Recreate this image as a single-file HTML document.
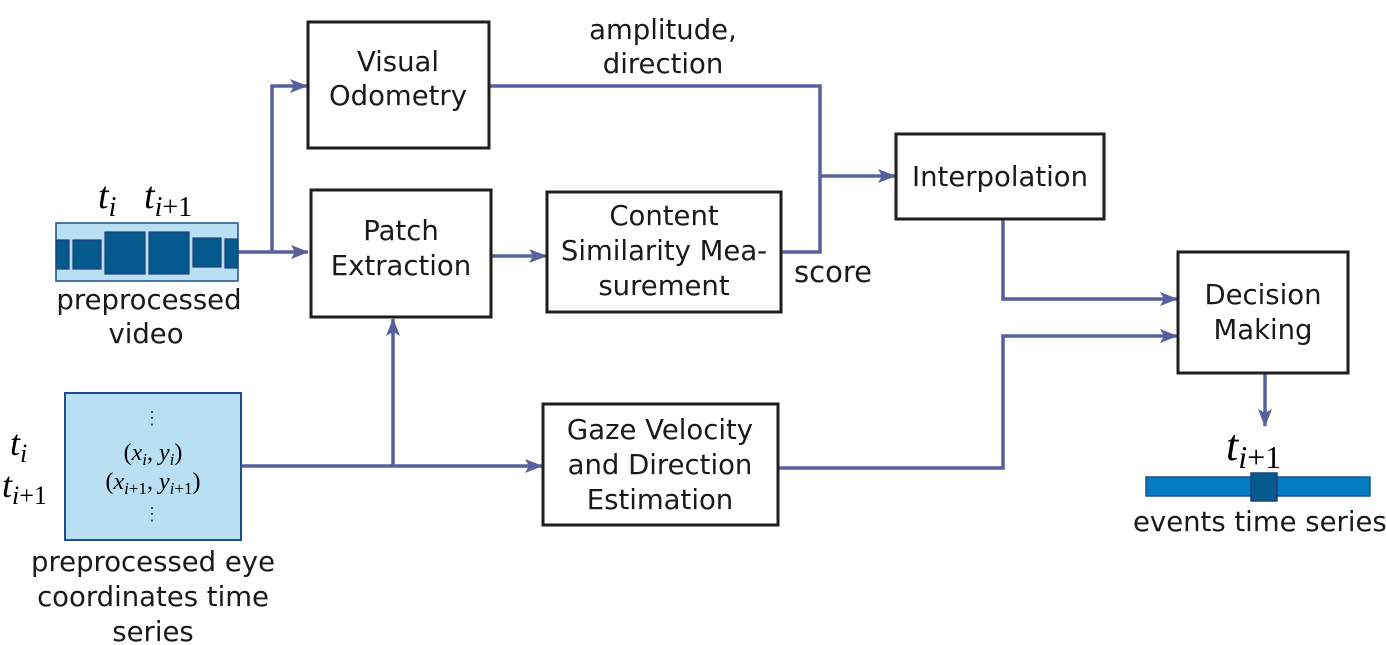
<!DOCTYPE html>
<html><head><meta charset="utf-8"><style>
html,body{margin:0;padding:0;background:#fff;overflow:hidden;}
svg{display:block;}
.t{font-family:"DejaVu Sans","Liberation Sans",sans-serif;font-size:27.5px;fill:#1a1a1a;text-anchor:middle;}
.m{font-family:"Liberation Serif",serif;font-style:italic;fill:#000;}
.b{fill:#fff;stroke:#1e1e1e;stroke-width:3;}
.l{fill:none;stroke:#56609a;stroke-width:3.5;}
</style></head><body>
<svg width="1386" height="645" viewBox="0 0 1386 645" xmlns="http://www.w3.org/2000/svg">
<defs><marker id="a" markerWidth="18" markerHeight="14" refX="17" refY="7" orient="auto" markerUnits="userSpaceOnUse"><path d="M0,0 L18,7 L0,14 L4,7 Z" fill="#56609a"/></marker></defs>
<path class="l" d="M238,252 H308" marker-end="url(#a)"/>
<path class="l" d="M272,252 V86 H307" marker-end="url(#a)"/>
<path class="l" d="M489,86 H820 V252 H781"/>
<path class="l" d="M820,176 H895" marker-end="url(#a)"/>
<path class="l" d="M491,256 H546" marker-end="url(#a)"/>
<path class="l" d="M241,466 H542" marker-end="url(#a)"/>
<path class="l" d="M393,466 V319" marker-end="url(#a)"/>
<path class="l" d="M778,468 H1003 V336 H1177" marker-end="url(#a)"/>
<path class="l" d="M1003,219 V299 H1177" marker-end="url(#a)"/>
<path class="l" d="M1265,373 V426" marker-end="url(#a)"/>
<rect class="b" x="308" y="22" width="181" height="126"/>
<text class="t" x="398" y="71">Visual</text><text class="t" x="398" y="105">Odometry</text>
<rect class="b" x="311" y="190" width="180" height="127"/>
<text class="t" x="401" y="240">Patch</text><text class="t" x="401" y="275">Extraction</text>
<rect class="b" x="547" y="192" width="234" height="120"/>
<text class="t" x="664" y="225">Content</text><text class="t" x="664" y="260">Similarity Mea-</text><text class="t" x="664" y="295">surement</text>
<rect class="b" x="896" y="134" width="208" height="85"/>
<text class="t" x="1000" y="186">Interpolation</text>
<rect class="b" x="1178" y="252" width="170" height="121"/>
<text class="t" x="1263" y="304">Decision</text><text class="t" x="1263" y="339">Making</text>
<rect class="b" x="543" y="404" width="235" height="121"/>
<text class="t" x="660" y="439">Gaze Velocity</text><text class="t" x="660" y="474">and Direction</text><text class="t" x="660" y="509">Estimation</text>
<text class="t" x="663" y="39">amplitude,</text><text class="t" x="663" y="73">direction</text>
<text class="t" x="833" y="282" style="font-size:29px">score</text>
<rect x="56" y="223" width="182" height="58" fill="#b8dff2" stroke="#1f4e8c" stroke-width="1.5"/>
<g fill="#045a8d" stroke="#1f3e7c" stroke-width="1.2">
<rect x="56" y="240" width="13" height="29"/><rect x="73" y="240" width="28" height="29"/>
<rect x="105" y="232" width="40" height="42"/><rect x="149" y="232" width="40" height="42"/>
<rect x="193" y="238" width="28" height="29"/><rect x="225" y="239" width="13" height="29"/>
</g>
<text class="m" x="98" y="208" font-size="38">t<tspan font-size="28" dy="8">i</tspan></text>
<text class="m" x="144" y="208" font-size="38">t<tspan font-size="28" dy="8">i</tspan><tspan font-style="normal" font-size="28">+1</tspan></text>
<text class="t" x="149" y="309">preprocessed</text><text class="t" x="146" y="343">video</text>
<rect x="65" y="393" width="176" height="147" fill="#b8dff2" stroke="#1f4e8c" stroke-width="2"/>
<text x="152" y="424" text-anchor="middle" font-size="18" fill="#1f3e7c" font-family="Liberation Serif,serif">⋮</text>
<text x="153" y="460" text-anchor="middle" font-size="24" font-family="Liberation Serif,serif">(<tspan font-style="italic">x</tspan><tspan font-size="17" dy="5" font-style="italic">i</tspan><tspan dy="-5">, </tspan><tspan font-style="italic">y</tspan><tspan font-size="17" dy="5" font-style="italic">i</tspan><tspan dy="-5">)</tspan></text>
<text x="153" y="489" text-anchor="middle" font-size="24" font-family="Liberation Serif,serif">(<tspan font-style="italic">x</tspan><tspan font-size="17" dy="5"><tspan font-style="italic">i</tspan>+1</tspan><tspan dy="-5">, </tspan><tspan font-style="italic">y</tspan><tspan font-size="17" dy="5"><tspan font-style="italic">i</tspan>+1</tspan><tspan dy="-5">)</tspan></text>
<text x="152" y="520" text-anchor="middle" font-size="18" fill="#1f3e7c" font-family="Liberation Serif,serif">⋮</text>
<text class="m" x="10" y="455" font-size="36">t<tspan font-size="26" dy="7">i</tspan></text>
<text class="m" x="2" y="497" font-size="36">t<tspan font-size="26" dy="7">i</tspan><tspan font-style="normal" font-size="26">+1</tspan></text>
<text class="t" x="153" y="571">preprocessed eye</text><text class="t" x="153" y="606">coordinates time</text><text class="t" x="153" y="641">series</text>
<text class="m" x="1226" y="460" font-size="44">t<tspan font-size="32" dy="8">i</tspan><tspan font-style="normal" font-size="32">+1</tspan></text>
<rect x="1146" y="477" width="224" height="19" fill="#047bc0" stroke="#1f4e8c" stroke-width="1.5"/>
<rect x="1251" y="473" width="26" height="28" fill="#045a8d" stroke="#1f3e7c" stroke-width="1.5"/>
<text class="t" x="1133" y="531" style="text-anchor:start">events time series</text>
</svg>
</body></html>
